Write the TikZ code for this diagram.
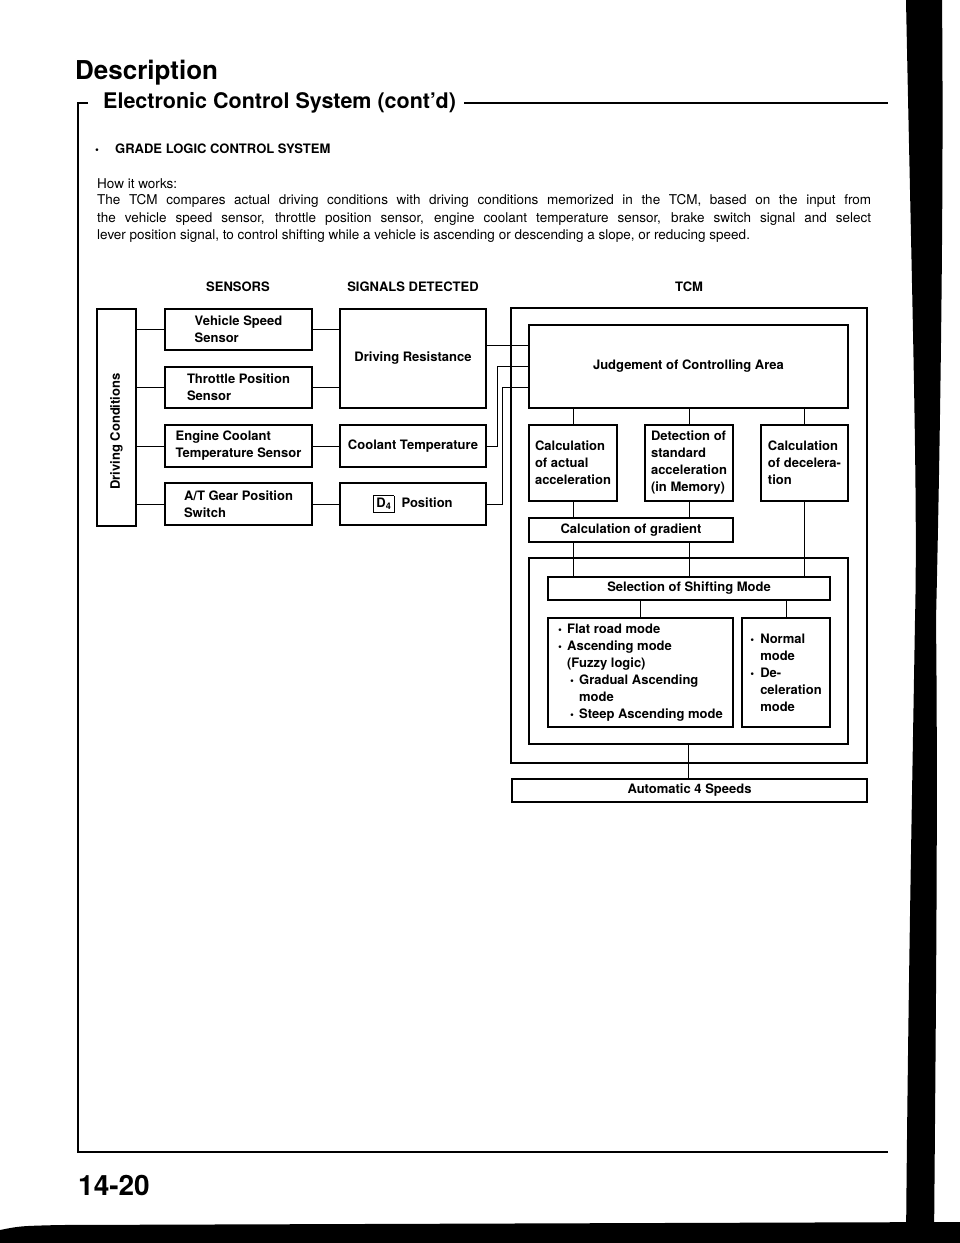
\documentclass[tikz,border=0pt]{standalone}
\usepackage{fontspec}
\setmainfont{TeX Gyre Heros}
\usetikzlibrary{positioning,calc}

\newcommand{\bx}{\bfseries\fontsize{13}{17}\selectfont}
\newcommand{\dotb}{\scalebox{0.85}{\textbullet}}

\begin{document}
\begin{tikzpicture}[x=1pt, y=-1pt,
    every node/.style={align=center, inner sep=0pt},
    box/.style={draw, line width=1.1pt, align=left, font=\bx},
    link/.style={line width=0.7pt}]

  \fill[white] (0,0) rectangle (960,1243);
  \useasboundingbox (0,0) rectangle (960,1243);

  % page heading and frame
  \node[anchor=base west, font=\bfseries\fontsize{26}{30}\selectfont] (desc) at (75,79) {Description};
  \node[anchor=base west, font=\bfseries\fontsize{21.5}{25}\selectfont] (sect) at (103,108) {Electronic Control System (cont'd)};
  \coordinate (frametl) at (78,103);
  \coordinate (framebr) at (888,1152);
  \draw[line width=1.2pt] ([xshift=10pt]frametl) -- (frametl) |- (framebr);
  \draw[line width=1.3pt] ([xshift=8pt]sect.east |- frametl) -- (framebr |- frametl);

  \node[anchor=base west, font=\bfseries\fontsize{13}{17}\selectfont] (grade) at (95,153.5)
      {\makebox[20pt][l]{\dotb}GRADE LOGIC CONTROL SYSTEM};
  \node[anchor=base west, font=\fontsize{13.5}{17.5}\selectfont] (how) at (97,188.5) {How it works:};
  \node[anchor=north west, text width=774pt, align=justify, font=\fontsize{13.5}{17.5}\selectfont] (para) at (97,194.5)
      {The TCM compares actual driving conditions with driving conditions memorized in the TCM, based on the input from\linebreak
       the vehicle speed sensor, throttle position sensor, engine coolant temperature sensor, brake switch signal and select\linebreak
       lever position signal, to control shifting while a vehicle is ascending or descending a slope, or reducing speed.};

  % column headings
  \node[font=\bfseries\fontsize{13}{15}\selectfont] (hsen) at (238,287) {SENSORS};
  \node[font=\bfseries\fontsize{13}{15}\selectfont] (hsig) at (413,287) {SIGNALS DETECTED};
  \node[font=\bfseries\fontsize{13}{15}\selectfont] (htcm) at (689,287) {TCM};

  % driving conditions and sensors
  \node[box, minimum width=39pt, minimum height=217pt] (dc) at (116.5,417.5) {};
  \node[font=\bx, rotate=90] (dclabel) at ($(dc.center)+(0,14)$) {Driving Conditions};

  \node[box, minimum width=147pt, minimum height=41pt] (vss) at (238.5,329.5) {Vehicle Speed\\Sensor};
  \node[box, minimum width=147pt, minimum height=41pt] (tps) at (238.5,387.5) {Throttle Position\\Sensor};
  \node[box, minimum width=147pt, minimum height=42pt] (ects) at (238.5,446) {Engine Coolant\\Temperature Sensor};
  \node[box, minimum width=147pt, minimum height=42pt] (atg) at (238.5,504) {A/T Gear Position\\Switch};

  % signals
  \node[box, minimum width=146pt, minimum height=99pt] (drs) at (413,358.5) {Driving Resistance};
  \node[box, minimum width=146pt, minimum height=42pt] (clt) at (413,446) {Coolant Temperature};
  \node[box, minimum width=146pt, minimum height=42pt] (d4p) at (413,504)
      {\setlength{\fboxsep}{2.2pt}\setlength{\fboxrule}{0.8pt}\fbox{D\textsubscript{4}}\ \ Position};

  \draw[link] (dc.east |- vss.west) -- (vss.west);
  \draw[link] (dc.east |- tps.west) -- (tps.west);
  \draw[link] (dc.east |- ects.west) -- (ects.west);
  \draw[link] (dc.east |- atg.west) -- (atg.west);
  \draw[link] (vss.east) -- (vss.east -| drs.west);
  \draw[link] (tps.east) -- (tps.east -| drs.west);
  \draw[link] (ects.east) -- (clt.west);
  \draw[link] (atg.east) -- (d4p.west);

  % TCM
  \node[draw, line width=1.1pt, minimum width=356pt, minimum height=455pt] (tcm) at (689,535.5) {};
  \node[box, minimum width=319pt, minimum height=83pt] (jdg) at (688.5,366.5) {Judgement of Controlling Area};
  \node[box, minimum width=88pt, minimum height=76pt] (cact) at (573,463) {Calculation\\of actual\\acceleration};
  \node[box, minimum width=88pt, minimum height=76pt] (dstd) at (689,463) {Detection of\\standard\\acceleration\\(in Memory)};
  \node[box, minimum width=87pt, minimum height=76pt] (cdec) at (804.5,463) {Calculation\\of decelera-\\tion};
  \node[box, minimum width=204pt, minimum height=24pt] (grad) at (631,530) {Calculation of gradient};

  \node[draw, line width=1.1pt, minimum width=319pt, minimum height=186pt] (modes) at (688.5,651) {};
  \node[box, minimum width=282pt, minimum height=23pt] (sel) at (689,588.5) {Selection of Shifting Mode};
  \node[box, minimum width=185pt, minimum height=109pt] (flat) at (640.5,672.5)
      {\makebox[9pt][l]{\dotb}Flat road mode\\
       \makebox[9pt][l]{\dotb}Ascending mode\\
       \hspace*{9pt}(Fuzzy logic)\\
       \hspace*{12pt}\makebox[9pt][l]{\dotb}Gradual Ascending\\
       \hspace*{21pt}mode\\
       \hspace*{12pt}\makebox[9pt][l]{\dotb}Steep Ascending mode};
  \node[box, minimum width=88pt, minimum height=109pt] (norm) at (786,672.5)
      {\makebox[10pt][l]{\dotb}Normal\\
       \hspace*{10pt}mode\\
       \makebox[10pt][l]{\dotb}De-\\
       \hspace*{10pt}celeration\\
       \hspace*{10pt}mode};

  \node[box, minimum width=355pt, minimum height=23pt] (auto) at (689.5,790.5) {Automatic 4 Speeds};

  \coordinate (jin1) at ($(jdg.north west)!0.25!(jdg.south west)$);
  \coordinate (jin2) at (jdg.west);
  \coordinate (jin3) at ($(jdg.north west)!0.75!(jdg.south west)$);
  \draw[link] (drs.east |- jin1) -- (jin1);
  \draw[link] (clt.east) -- ++(11,0) |- (jin2);
  \draw[link] (d4p.east) -- ++(16,0) |- (jin3);

  \draw[link] (cact.north) -- (cact.north |- jdg.south);
  \draw[link] (dstd.north) -- (dstd.north |- jdg.south);
  \draw[link] (cdec.north) -- (cdec.north |- jdg.south);
  \draw[link] (cact.south) -- (cact.south |- grad.north);
  \draw[link] (dstd.south) -- (dstd.south |- grad.north);
  \draw[link] (cact.south |- grad.south) -- (cact.south |- sel.north);
  \draw[link] (dstd.south |- grad.south) -- (dstd.south |- sel.north);
  \draw[link] (cdec.south) -- (cdec.south |- sel.north);
  \draw[link] (flat.north |- sel.south) -- (flat.north);
  \draw[link] (norm.north |- sel.south) -- (norm.north);
  \draw[link] (modes.south) -- (modes.south |- auto.north);

  % page number and scan edges
  \node[anchor=base west, font=\bfseries\fontsize{28}{32}\selectfont] (pageno) at (78,1195) {14-20};
  \fill[black] (906,0) .. controls (912,300) and (918,500) .. (915,620)
      .. controls (912,800) and (908,1000) .. (906,1243) -- (934,1243)
      .. controls (936,1000) and (938,800) .. (936,620)
      .. controls (940,450) and (944,200) .. (942,0) -- cycle;
  \fill[black] (0,1230) .. controls (20,1226) .. (60,1225) -- (960,1222) -- (960,1243) -- (0,1243) -- cycle;
\end{tikzpicture}
\end{document}
